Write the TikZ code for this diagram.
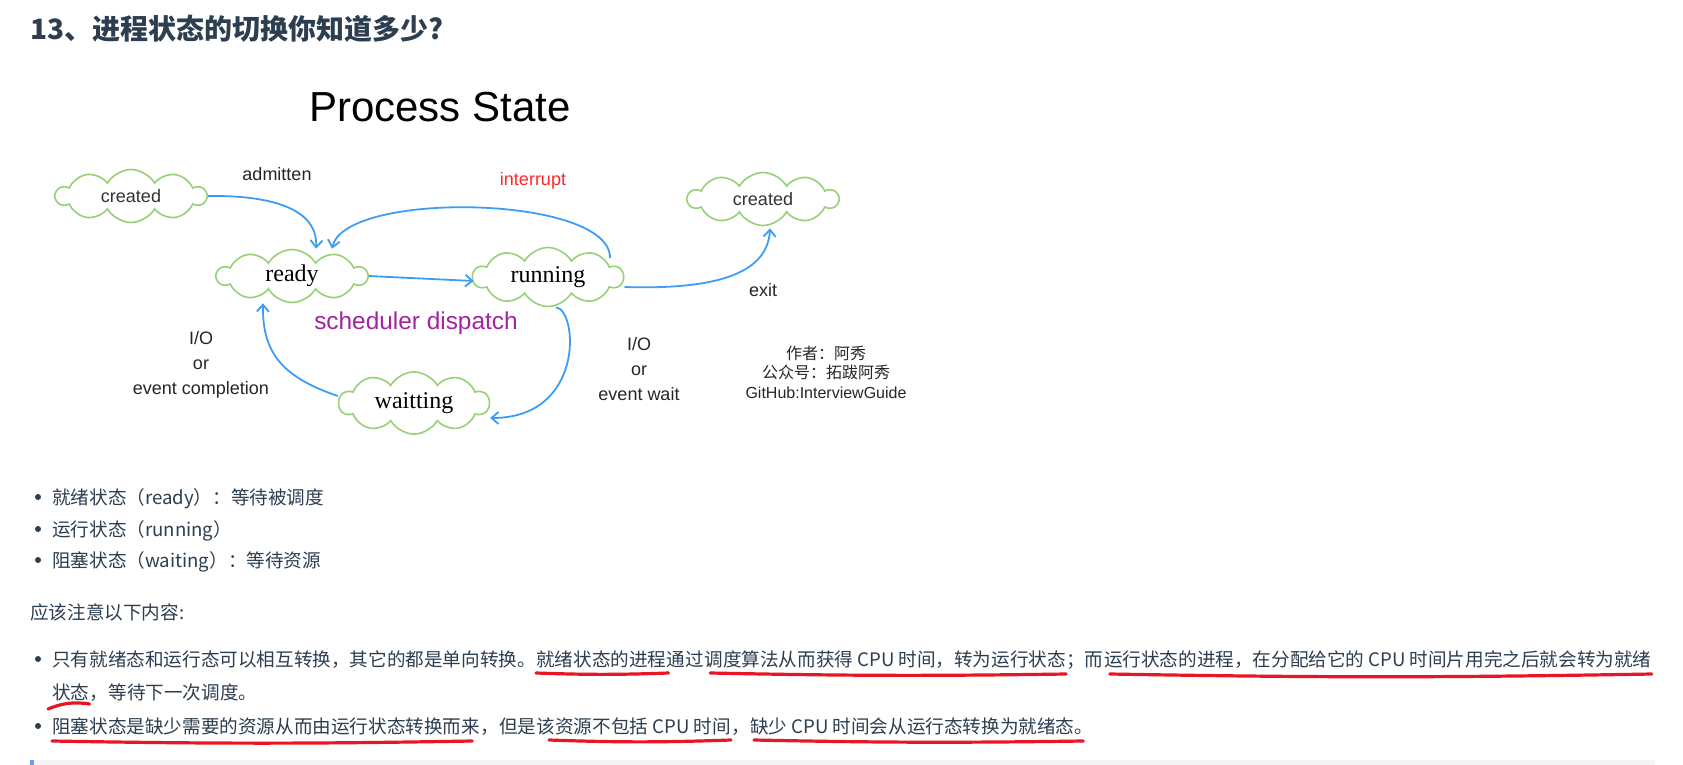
\documentclass[tikz,border=0pt]{standalone}
\usepackage{fontspec}
\setmainfont{Liberation Sans}
\newfontfamily\serifstate{Liberation Serif}
\newfontfamily\cjk{Noto Sans CJK SC}
\usetikzlibrary{arrows.meta,shapes.symbols,calc}
\definecolor{cloudgreen}{RGB}{151,208,119}
\definecolor{flowblue}{RGB}{61,157,243}
\definecolor{pagetext}{RGB}{44,62,80}
\definecolor{penred}{RGB}{232,22,36}
\definecolor{intrred}{RGB}{255,40,40}
\definecolor{dispatchpurple}{RGB}{163,35,163}
\definecolor{quotebg}{RGB}{243,245,247}
\definecolor{quotebar}{RGB}{100,160,240}

\begin{document}
\begin{tikzpicture}[
  x=1pt,y=-1pt,
  >={Straight Barb[length=7pt,width=12pt]},
  state/.style={
    cloud,
    cloud puffs=10,
    cloud puff arc=120,
    aspect=2.5,
    draw=cloudgreen,
    line width=1.6pt,
    fill=white,
    minimum width=150pt,
    minimum height=53pt,
    inner sep=0pt
  },
  sstate/.style={state,font=\fontsize{18}{20}\selectfont,text=black!80},
  tstate/.style={state,font=\serifstate\fontsize{24}{26}\selectfont},
  flow/.style={->,draw=flowblue,line width=1.8pt},
  lbl/.style={align=center,inner sep=0pt,text=black!85,font=\fontsize{18}{25}\selectfont},
  para/.style={anchor=base west,inner sep=0pt,text=pagetext,font=\cjk\fontsize{18.6}{20}\selectfont},
  hl/.style={draw=penred,line width=3.2pt,line cap=round},
  dot/.style={circle,fill=pagetext,inner sep=0pt,minimum size=6pt}
]
\path[fill=white] (0,0) rectangle (1683,765);
\useasboundingbox (0,0) rectangle (1683,765);

\node[anchor=base west,inner sep=0pt,text=pagetext,font=\cjk\bfseries\fontsize{28}{30}\selectfont] (title) at (30,40) {13、进程状态的切换你知道多少?};
\node[font=\fontsize{42}{44}\selectfont] (heading) at (440,107) {Process State};

\node[sstate] (created) at (131,196) {created};
\node[tstate] (ready) at (292,276) {ready};
\node[tstate] (running) at (548,277) {running};
\node[tstate] (waitting) at (414,403) {waitting};
\node[sstate] (exited) at (763,199) {created};

\draw[flow] (created.east) .. controls (285,195) and (318,215) .. ($(ready.north)+(24,0)$);
\draw[flow] ($(running.center)+(62,-19)$) .. controls (611,195) and (345,190) .. ($(ready.north)+(40,0)$);
\draw[flow] (ready.east) -- ($(running.west)+(2,4)$);
\draw[flow] ($(running.east)+(0,10)$) .. controls (720,290) and (768,272) .. ($(exited.south)+(7,2)$);
\draw[flow] ($(running.south)+(8,0)$) .. controls (578,310) and (585,418) .. ($(waitting.east)+(0,15)$);
\draw[flow] ($(waitting.west)+(0,-7)$) .. controls (285,378) and (262,355) .. ($(ready.south)+(-29,0)$);

\node[lbl] (admit) at (277,174) {admitten};
\node[lbl,text=intrred] (intr) at (533,181) {interrupt};
\node[lbl] (exitlbl) at (763,290) {exit};
\node[lbl,text=dispatchpurple,font=\fontsize{24.4}{26}\selectfont] (disp) at (416,323) {scheduler dispatch};
\node[lbl] (iodone) at (201,365) {I/O\\or\\event completion};
\node[lbl] (iowait) at (639,369) {I/O\\or\\event wait};
\node[lbl,font=\fontsize{16}{19.5}\selectfont] (author) at (826,372) {{\cjk 作者：阿秀}\\{\cjk 公众号：拓跋阿秀}\\GitHub:InterviewGuide};

\node[dot] (d1) at (38,497) {};
\node[para] (s1) at (52,504) {就绪状态（ready）：等待被调度};
\node[dot] (d2) at (38,529) {};
\node[para] (s2) at (52,536) {运行状态（running）};
\node[dot] (d3) at (38,560) {};
\node[para] (s3) at (52,567) {阻塞状态（waiting）：等待资源};

\node[para] (note) at (30,619) {应该注意以下内容:};

\node[dot] (d4) at (38,659) {};
\node[para] (a1) at (52,666) {只有就绪态和运行态可以相互转换，其它的都是单向转换。};
\node[para] (a2) at (a1.base east) {就绪状态的进程};
\node[para] (a3) at (a2.base east) {通过};
\node[para] (a4) at (a3.base east) {调度算法从而获得 CPU 时间，转为运行状态};
\node[para] (a5) at (a4.base east) {；而};
\node[para] (a6) at (a5.base east) {运行状态的进程，在分配给它的 CPU 时间片用完之后就会转为就绪};
\node[para] (b1) at (52,699) {状态};
\node[para] (b2) at (b1.base east) {，等待下一次调度。};
\node[dot] (d5) at (38,726) {};
\node[para] (c1) at (52,733) {阻塞状态是缺少需要的资源从而由运行状态转换而来};
\node[para] (c2) at (c1.base east) {，但是该};
\node[para] (c3) at (c2.base east) {资源不包括 CPU 时间};
\node[para] (c4) at (c3.base east) {，};
\node[para] (c5) at (c4.base east) {缺少 CPU 时间会从运行态转换为就绪态。};

\draw[hl] ($(a2.base west)+(0,7)$) to[bend right=2] ($(a2.base east)+(2,7)$);
\draw[hl] ($(a4.base west)+(6,7)$) to[bend right=1] ($(a4.base east)+(0,8)$);
\draw[hl] ($(a6.base west)+(6,8)$) to[bend right=1] ($(a6.base east)+(0,8)$);
\draw[hl] ($(b1.base west)+(-4,10)$) to[bend left=15] ($(b1.base east)+(0,5)$);
\draw[hl] ($(c1.base west)+(0,8)$) to[bend right=1] ($(c1.base east)+(-8,8)$);
\draw[hl] ($(c3.base west)+(-6,7)$) to[bend right=2] ($(c3.base east)+(0,7)$);
\draw[hl] ($(c5.base west)+(4,7)$) to[bend right=1] ($(c5.base east)+(-10,8)$);

\fill[quotebg] (30,760) rectangle (1655,765);
\fill[quotebar] (30,760) rectangle (34,765);
\end{tikzpicture}
\end{document}
